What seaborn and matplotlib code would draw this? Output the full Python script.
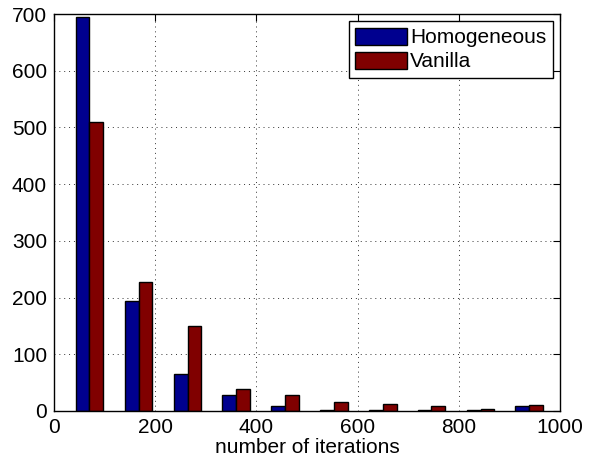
import matplotlib
matplotlib.use("Agg")
import matplotlib.pyplot as plt
import seaborn as sns
import pandas as pd
from matplotlib.patches import Patch

bin_centers = [70, 167, 264, 360, 457, 553, 650, 746, 843, 939]
homogeneous = [695, 194, 66, 29, 8, 2, 1, 1, 1, 8]
vanilla = [510, 228, 150, 39, 29, 16, 13, 8, 3, 10]
series_names = ["Homogeneous", "Vanilla"]
colors = ["#00008F", "#800000"]
x_ticks = [0, 200, 400, 600, 800, 1000]
y_ticks = [0, 100, 200, 300, 400, 500, 600, 700]

df = pd.DataFrame({
    "center": bin_centers * 2,
    "count": homogeneous + vanilla,
    "series": [series_names[0]] * len(bin_centers) + [series_names[1]] * len(bin_centers),
})

sns.set_style("white")
plt.rcParams["font.family"] = ["Liberation Sans", "DejaVu Sans"]
plt.rcParams["text.color"] = "black"
plt.rcParams["axes.labelcolor"] = "black"
plt.rcParams["xtick.color"] = "black"
plt.rcParams["ytick.color"] = "black"

fig = plt.figure(figsize=(5.97, 4.66), dpi=100)
ax = fig.add_axes([54 / 597, 1 - 411 / 466, 506 / 597, 397 / 466])

sns.barplot(data=df, x="center", y="count", hue="series", native_scale=True,
            palette=colors, saturation=1, width=0.57, edgecolor="black",
            linewidth=1.0, ax=ax, legend=False, errorbar=None)

ax.set_xlim(0, 1000)
ax.set_ylim(0, 700)
ax.set_xticks(x_ticks)
ax.set_yticks(y_ticks)
ax.set_xticklabels([str(t) for t in x_ticks], fontsize=15)
ax.set_yticklabels([str(t) for t in y_ticks], fontsize=15)
ax.set_xlabel("number of iterations", fontsize=15, labelpad=1, color="black")
ax.set_ylabel("")
ax.grid(True, linestyle=(0, (1, 4)), color="black", linewidth=0.7, alpha=0.8)
ax.set_axisbelow(True)
ax.tick_params(axis="x", direction="in", length=5, width=0.8, top=True,
               colors="black", labelcolor="black", pad=5)
ax.tick_params(axis="y", direction="in", length=5, width=0.8, right=True,
               colors="black", labelcolor="black", pad=5)
for s in ax.spines.values():
    s.set_visible(True)
    s.set_color("black")
    s.set_linewidth(1.0)

handles = [Patch(facecolor=c, edgecolor="black", label=n) for c, n in zip(colors, series_names)]
leg = ax.legend(handles=handles, loc="upper right", fontsize=15, frameon=True,
                fancybox=False, edgecolor="black", framealpha=1,
                handlelength=2.5, handleheight=0.9, handletextpad=0.15,
                borderpad=0.3, labelspacing=0.2, borderaxespad=0.35)
leg.get_frame().set_linewidth(1.0)
for t in leg.get_texts():
    t.set_color("black")

fig.savefig("out.png", dpi=100)
